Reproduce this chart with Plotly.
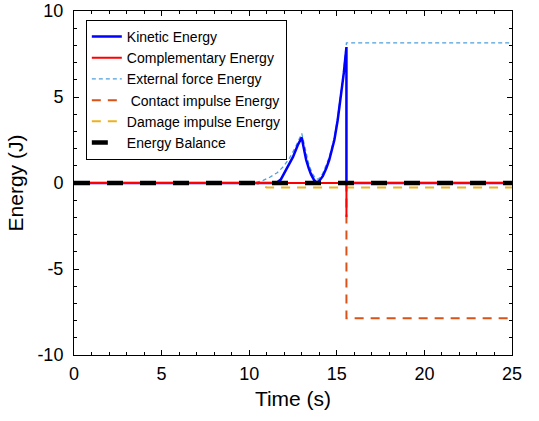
import plotly.graph_objects as go

# ---- data ----
t_kin = [0, 11.55, 11.8, 12.1, 12.3, 12.5, 12.77, 13.0, 13.1, 13.25, 13.4, 13.53, 13.7, 13.82, 13.9,
         14.0, 14.2, 14.4, 14.57, 14.75, 14.86, 15.05, 15.24, 15.4, 15.55, 15.55, 25]
e_kin = [0, 0, 0.2, 0.74, 1.1, 1.52, 2.2, 2.65, 2.1, 1.35, 0.85, 0.5, 0.18, 0.05, 0.05,
         0.12, 0.4, 0.85, 1.35, 2.0, 2.5, 3.65, 5.0, 6.4, 7.9, 0, 0]

t_comp = [0, 15.55, 15.55, 15.55, 25]
e_comp = [0, 0, -1.97, 0, 0]

t_ext = [0, 10.3, 10.8, 11.2, 11.6, 11.95, 12.3, 12.6, 13.0, 13.2, 13.4, 13.6, 13.8, 13.95,
         14.2, 14.57, 14.86, 15.05, 15.24, 15.4, 15.55, 25]
e_ext = [0, 0, 0.15, 0.35, 0.6, 0.95, 1.45, 2.0, 2.88, 2.0, 1.1, 0.55, 0.25, 0.22,
         0.55, 1.5, 2.65, 3.8, 5.15, 6.6, 8.15, 8.15]

t_cont = [0, 15.55, 15.55, 25]
e_cont = [0, 0, -7.87, -7.87]

t_dmg = [0, 10.4, 11.0, 25]
e_dmg = [0, 0, -0.26, -0.26]

t_bal = [0, 25]
e_bal = [0, 0]

names = ["Kinetic Energy", "Complementary Energy", "External force Energy",
         " Contact impulse Energy", "Damage impulse Energy", "Energy Balance"]

x_ticks = [0, 5, 10, 15, 20, 25]
y_ticks = [-10, -5, 0, 5, 10]

FONT = "Liberation Sans, Arial, sans-serif"

fig = go.Figure()
# draw order (legendrank controls legend order)
fig.add_trace(go.Scatter(x=t_ext, y=e_ext, mode="lines", name=names[2], legendrank=3,
                         line=dict(color="#4F9FDB", width=1.3, dash="4px,3px")))
fig.add_trace(go.Scatter(x=t_cont, y=e_cont, mode="lines", name=names[3], legendrank=4,
                         line=dict(color="#D95319", width=2, dash="9px,7px")))
fig.add_trace(go.Scatter(x=t_dmg, y=e_dmg, mode="lines", name=names[4], legendrank=5,
                         line=dict(color="#EDB120", width=2, dash="9px,7px")))
fig.add_trace(go.Scatter(x=t_kin, y=e_kin, mode="lines", name=names[0], legendrank=1,
                         line=dict(color="#0000FF", width=2.5)))
fig.add_trace(go.Scatter(x=t_comp, y=e_comp, mode="lines", name=names[1], legendrank=2,
                         line=dict(color="#FF0000", width=2)))
fig.add_trace(go.Scatter(x=t_bal, y=e_bal, mode="lines", name=names[5], legendrank=6,
                         line=dict(color="#000000", width=4.5, dash="16px,17px")))

axis_common = dict(
    showline=True, linecolor="black", linewidth=1, mirror="ticks",
    ticks="inside", ticklen=5, tickcolor="black", showgrid=False, zeroline=False,
    automargin=False,
    tickfont=dict(family=FONT, size=18, color="black"),
    minor=dict(ticks="inside", ticklen=3, dtick=1, tickcolor="black", showgrid=False),
)

fig.update_layout(
    width=539, height=421,
    margin=dict(l=74, r=27, t=11, b=66),
    plot_bgcolor="white", paper_bgcolor="white",
    font=dict(family=FONT, color="black"),
    xaxis=dict(range=[0, 25], tickvals=x_ticks, ticklabelstandoff=2,
               title=dict(text="Time (s)", font=dict(family=FONT, size=21), standoff=8),
               **axis_common),
    yaxis=dict(range=[-10, 10], tickvals=y_ticks, ticktext=[str(v) for v in y_ticks],
               ticklabelstandoff=6,
               title=dict(text="Energy (J)", font=dict(family=FONT, size=21), standoff=8),
               **axis_common),
    legend=dict(x=0.027, y=0.974, xanchor="left", yanchor="top",
                bgcolor="white", bordercolor="black", borderwidth=1,
                font=dict(family=FONT, size=14, color="black"),
                itemwidth=30),
    showlegend=True,
)

fig.write_html("out.html")
